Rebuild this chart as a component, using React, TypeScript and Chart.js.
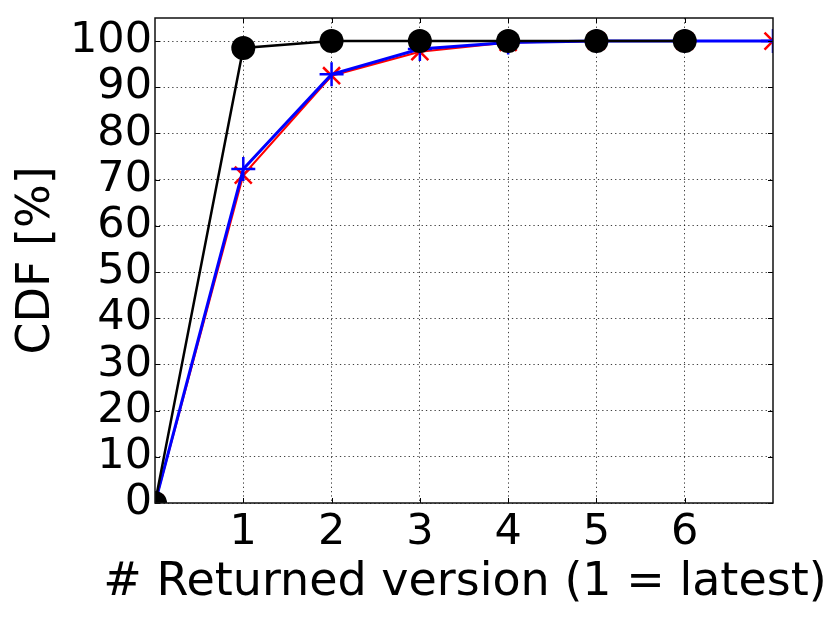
import React, { useEffect, useRef } from "react";
import { Chart, registerables } from "chart.js";

Chart.register(...registerables);

const versions = [0, 1, 2, 3, 4, 5, 6, 7];
const redSeries = [0, 71, 92.5, 97.7, 99.7, 100, 100, 100];
const blueSeries = [0, 72.3, 92.8, 98.3, 99.7, 100, 100, 100];
const blackSeries = [0, 98.5, 100, 100, 100, 100, 100];
const xTickLabels = ["1", "2", "3", "4", "5", "6"];
const yTicks = [0, 10, 20, 30, 40, 50, 60, 70, 80, 90, 100];
const xTitle = "# Returned version (1 = latest)";
const yTitle = "CDF [%]";

const FONT = "'DejaVu Sans', sans-serif";

const inwardTicks = {
  id: "inwardTicks",
  afterDatasetsDraw(chart: any) {
    const { ctx, chartArea, scales } = chart;
    const len = 5;
    ctx.save();
    ctx.strokeStyle = "#000";
    ctx.lineWidth = 1;
    ctx.beginPath();
    yTicks.forEach((v) => {
      const y = Math.round(scales.y.getPixelForValue(v)) + 0.5;
      ctx.moveTo(chartArea.left, y);
      ctx.lineTo(chartArea.left + len, y);
      ctx.moveTo(chartArea.right, y);
      ctx.lineTo(chartArea.right - len, y);
    });
    xTickLabels.forEach((l) => {
      const x = Math.round(scales.x.getPixelForValue(Number(l))) + 0.5;
      ctx.moveTo(x, chartArea.bottom);
      ctx.lineTo(x, chartArea.bottom - len);
      ctx.moveTo(x, chartArea.top);
      ctx.lineTo(x, chartArea.top + len);
    });
    ctx.stroke();
    ctx.lineWidth = 1.5;
    ctx.strokeStyle = "#111";
    ctx.strokeRect(chartArea.left, chartArea.top, chartArea.right - chartArea.left, chartArea.bottom - chartArea.top);
    ctx.restore();
  },
  afterDraw(chart: any) {
    const { ctx, chartArea } = chart;
    ctx.save();
    ctx.fillStyle = "#000";
    ctx.font = `46px ${FONT}`;
    ctx.textAlign = "center";
    ctx.textBaseline = "alphabetic";
    ctx.fillText(xTitle, (chartArea.left + chartArea.right) / 2 + 1, 595);
    ctx.restore();
  },
};

export default function App() {
  const ref = useRef<HTMLCanvasElement | null>(null);
  useEffect(() => {
    document.body.style.margin = "0";
    const toPts = (arr: number[]) => arr.map((y, i) => ({ x: versions[i], y }));
    const chart = new Chart(ref.current as HTMLCanvasElement, {
      type: "line",
      data: {
        datasets: [
          {
            data: toPts(blackSeries),
            borderColor: "#000",
            backgroundColor: "#000",
            borderWidth: 2.5,
            pointStyle: "circle",
            pointRadius: 12,
            pointBorderWidth: 0,
            clip: 0,
          } as any,
          {
            data: toPts(blueSeries),
            borderColor: "#0000ff",
            backgroundColor: "#0000ff",
            borderWidth: 3,
            pointStyle: "cross",
            pointRadius: 12,
            pointBorderWidth: 2.5,
            clip: 0,
          },
          {
            data: toPts(redSeries),
            borderColor: "#ff0000",
            backgroundColor: "#ff0000",
            borderWidth: 2,
            pointStyle: "crossRot",
            pointRadius: 12,
            pointBorderWidth: 2.5,
            clip: 0,
          },
        ],
      },
      options: {
        animation: false,
        responsive: false,
        maintainAspectRatio: false,
        layout: { padding: { top: 18, right: 57, left: 0, bottom: 0 } },
        plugins: { legend: { display: false }, tooltip: { enabled: false } },
        scales: {
          x: {
            type: "linear",
            min: 0,
            max: 7,
            afterFit: (s: any) => {
              s.height = 120;
              s.paddingLeft = 0;
              s.paddingRight = 0;
            },
            afterBuildTicks: (s: any) => {
              s.ticks = xTickLabels.map((l) => ({ value: Number(l) }));
            },
            ticks: {
              padding: 4,
              autoSkip: false,
              color: "#000",
              font: { family: FONT, size: 43 },
              maxRotation: 0,
              callback: (v: any) => String(v),
            },
            grid: {
              drawTicks: false,
              color: "rgba(0,0,0,0.75)",
              lineWidth: 1,
            },
            border: { display: false, dash: [1.3, 3] } as any,
            title: { display: false },
          },
          y: {
            min: 0,
            max: 105,
            afterFit: (s: any) => {
              s.width = 155;
              s.paddingTop = 0;
              s.paddingBottom = 0;
            },
            afterBuildTicks: (s: any) => {
              s.ticks = yTicks.map((v) => ({ value: v }));
            },
            ticks: {
              padding: 3,
              autoSkip: false,
              color: "#000",
              font: { family: FONT, size: 43 },
              callback: (v: any) => String(v),
            },
            grid: {
              drawTicks: false,
              color: "rgba(0,0,0,0.75)",
              lineWidth: 1,
            },
            border: { display: false, dash: [1.3, 3] } as any,
            title: {
              display: true,
              text: yTitle,
              color: "#000",
              font: { family: FONT, size: 46 },
              padding: { top: 9, bottom: 0 },
            },
          },
        },
      },
      plugins: [inwardTicks],
    });
    return () => chart.destroy();
  }, []);
  return (
    <div style={{ position: "absolute", left: 0, top: 0, width: 830, height: 623, background: "#fff" }}>
      <canvas ref={ref} width={830} height={623} style={{ width: 830, height: 623 }} />
    </div>
  );
}
